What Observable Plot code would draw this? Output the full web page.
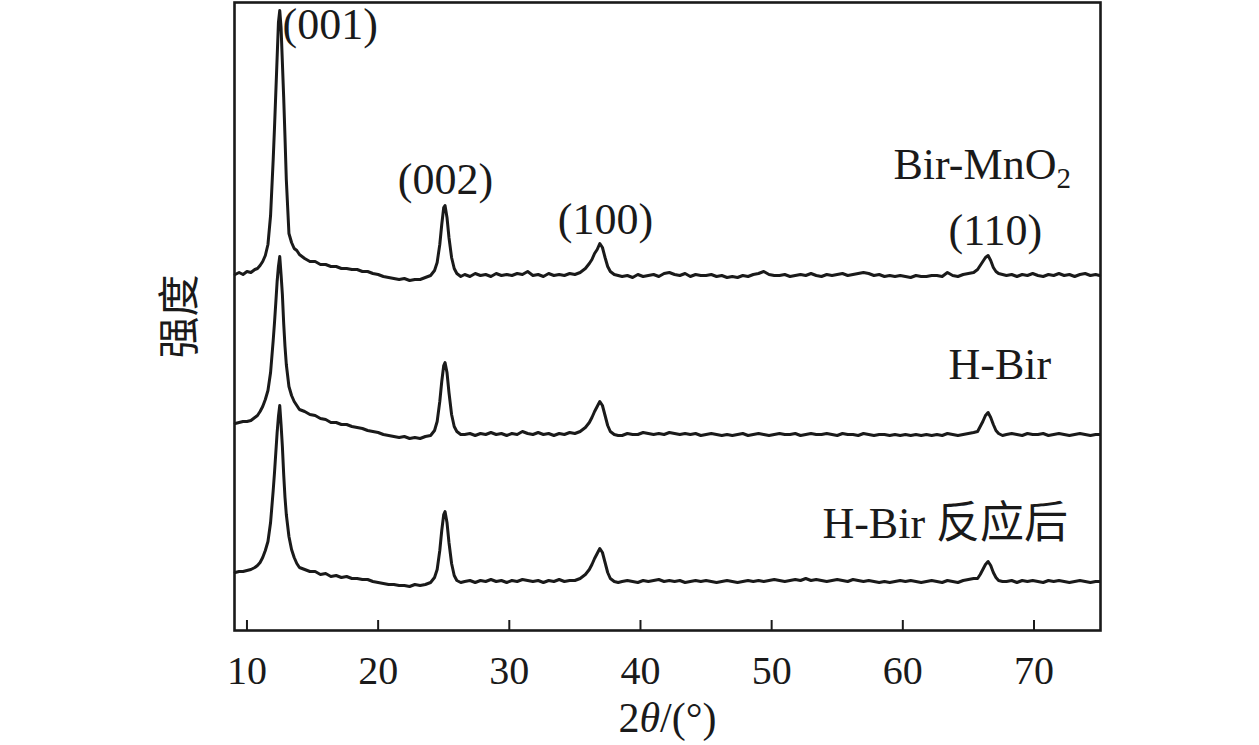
<!DOCTYPE html>
<html>
<head>
<meta charset="utf-8">
<script src="https://cdn.jsdelivr.net/npm/d3@7"></script>
<script src="https://cdn.jsdelivr.net/npm/@observablehq/plot@0.6"></script>
<style>
  html, body { margin: 0; padding: 0; background: #ffffff; }
  #chart { width: 1259px; height: 745px; }
</style>
</head>
<body>
<div id="chart"></div>
<script>
// 2θ sampling grid (degrees)
const twoTheta = [
  9.1, 9.4, 9.7, 10.0, 10.3, 10.6, 10.8, 11.0, 11.2, 11.4, 11.6, 11.8, 12.0, 12.1, 12.2, 12.3, 12.4, 12.5, 12.6, 12.7, 12.8, 12.9, 13.0, 13.2, 13.4, 13.6, 13.8, 14.0,
  14.4, 14.8, 15.2, 15.6, 16.0, 16.4, 16.8, 17.2, 17.6, 18.0, 18.4, 18.8, 19.2, 19.6, 20.0, 20.4, 20.8, 21.2, 21.6, 22.0, 22.4, 22.8, 23.2, 23.6,
  24.0, 24.3, 24.5, 24.7, 24.85, 25.0, 25.1, 25.25, 25.4, 25.6, 25.8, 26.0, 26.3,
  26.6, 27.0, 27.4, 27.8, 28.2, 28.6, 29.0, 29.4, 29.8, 30.2, 30.6, 31.0, 31.4, 31.8, 32.2, 32.6, 33.0, 33.4, 33.8, 34.2, 34.6, 35.0,
  35.4, 35.8, 36.1, 36.3, 36.5, 36.7, 36.9, 37.1, 37.3, 37.5, 37.7, 38.0, 38.3,
  38.6, 39.0, 39.4, 39.8, 40.2, 40.6, 41.0, 41.4, 41.8, 42.2,
  42.6, 43.0, 43.4, 43.8, 44.2, 44.6, 45.0, 45.4, 45.8, 46.2,
  46.6, 47.0, 47.4, 47.8, 48.2, 48.6, 49.0, 49.4, 49.8, 50.2,
  50.6, 51.0, 51.4, 51.8, 52.2, 52.6, 53.0, 53.4, 53.8, 54.2,
  54.6, 55.0, 55.4, 55.8, 56.2, 56.6, 57.0, 57.4, 57.8, 58.2,
  58.6, 59.0, 59.4, 59.8, 60.2, 60.6, 61.0, 61.4, 61.8, 62.2,
  62.6, 63.0, 63.4, 63.8, 64.2, 64.6, 65.0, 65.4,
  65.7, 65.9, 66.1, 66.3, 66.5, 66.7, 66.9, 67.1, 67.3, 67.6,
  67.9, 68.3, 68.7, 69.1, 69.5, 69.9, 70.3, 70.7, 71.1, 71.5, 71.9, 72.3, 72.7, 73.1, 73.5, 73.9, 74.3, 74.7, 75.0
];

// Intensities (a.u., relative to each pattern's own baseline)
const birMnO2 = [
  3, 5, 3, 6, 5, 8, 9, 12, 16, 22, 33, 62, 118, 150, 185, 220, 255, 267, 250, 215, 180, 140, 98, 44, 35, 29, 27, 23,
  19, 16, 16, 13, 13, 11, 11, 9, 9, 8, 8, 6, 6, 4, 3, 1, 0, -1, -2, -1, -3, -2, -2, 0,
  2, 7, 15, 33, 53, 70, 72, 60, 40, 20, 9, 4, 1,
  3, 1, 4, 2, 3, 1, 4, 2, 3, 2, 4, 3, 6, 2, 3, 1, 4, 2, 3, 2, 4, 3,
  5, 9, 14, 18, 24, 28, 34, 30, 20, 11, 6, 3, 2,
  1, 2, 0, 3, 1, 2, 3, 1, 4, 5,
  3, 2, 4, 1, 3, 2, 2, 3, 1, 2,
  0, 1, 0, 2, 1, 3, 4, 6, 3, 2,
  2, 3, 1, 2, 3, 2, 4, 2, 1, 3,
  2, 3, 4, 2, 3, 4, 5, 4, 2, 3,
  1, 2, 1, 2, 1, 0, 2, 1, 1, 2,
  2, 1, 5, 2, 1, 3, 4, 5,
  8, 12, 16, 20, 22, 17, 10, 6, 4, 3,
  2, 3, 1, 3, 2, 4, 2, 1, 3, 2, 4, 2, 3, 1, 3, 4, 2, 3, 2
];

const hBir = [
  13, 14, 15, 15, 16, 19, 21, 25, 30, 37, 46, 64, 96, 114, 134, 155, 170, 180, 162, 142, 113, 90, 72, 50, 41, 35, 31, 27,
  25, 22, 21, 18, 17, 14, 14, 12, 12, 10, 9, 8, 6, 5, 4, 2, 1, 0, -1, 0, -2, -1, -2, 0,
  1, 6, 15, 35, 55, 71, 74, 64, 44, 22, 10, 5, 2,
  2, 3, 1, 3, 2, 4, 2, 3, 1, 3, 2, 5, 3, 2, 4, 2, 3, 1, 3, 2, 4, 3,
  5, 9, 14, 19, 25, 30, 35, 31, 21, 11, 5, 2, 1,
  1, 3, 2, 2, 4, 3, 2, 3, 2, 4,
  3, 2, 3, 2, 3, 1, 2, 3, 2, 1,
  2, 1, 2, 3, 1, 2, 3, 2, 1, 2,
  3, 2, 2, 3, 1, 2, 3, 2, 2, 3,
  2, 1, 3, 2, 2, 1, 3, 2, 1, 2,
  2, 1, 2, 1, 2, 1, 2, 1, 2, 1,
  2, 1, 3, 2, 1, 2, 3, 4,
  5, 10, 15, 21, 24, 19, 12, 6, 3, 1,
  2, 3, 2, 1, 3, 2, 2, 3, 1, 2, 3, 2, 1, 2, 3, 2, 1, 2, 2
];

const hBirAfter = [
  10, 11, 11, 12, 13, 15, 17, 20, 25, 32, 41, 60, 92, 110, 130, 150, 166, 177, 158, 136, 108, 85, 68, 46, 33, 25, 19, 15,
  13, 11, 11, 8, 9, 6, 7, 5, 6, 4, 4, 3, 3, 1, 0, -1, -2, -2, -3, -3, -4, -2, -3, -2,
  0, 5, 13, 32, 52, 68, 71, 60, 40, 19, 7, 2, 0,
  1, 2, 0, 2, 1, 3, 1, 2, 0, 2, 1, 3, 2, 1, 2, 0, 2, 1, 3, 1, 2, 2,
  4, 8, 13, 18, 24, 29, 34, 30, 20, 10, 4, 1, 0,
  1, 2, 1, 0, 2, 1, 2, 3, 1, 2,
  1, 2, 0, 1, 2, 1, 2, 1, 0, 1,
  2, 1, 0, 1, 2, 1, 2, 1, 2, 3,
  2, 1, 2, 3, 2, 4, 2, 3, 2, 1,
  2, 3, 2, 1, 3, 2, 1, 2, 1, 0,
  1, 0, 1, 2, 1, 2, 1, 0, 1, 2,
  1, 0, 2, 1, 0, 2, 3, 4,
  4, 8, 13, 18, 21, 17, 10, 5, 2, 1,
  1, 2, 0, 2, 1, 2, 1, 0, 2, 1, 2, 1, 0, 1, 2, 1, 0, 1, 1
];

const seriesNames = ["Bir-MnO2", "H-Bir", "H-Bir 反应后"];
const seriesOffsets = [353, 194, 48];           // vertical stacking offsets (a.u.)
const xTicks = [10, 20, 30, 40, 50, 60, 70];

// Annotations anchored in data coordinates (2θ, stacked intensity)
const peakLabels = ["(001)", "(002)", "(100)", "(110)"];
const peakLabelTheta = [12.71, 25.13, 37.33, 67.06];
const peakLabelLevel = [606, 451, 411, 400];
const sampleLabelTheta = [59.29, 63.48, 53.87];
const sampleLabelLevel = [466, 266, 107];

// ---- build tables ----
const seriesValues = [birMnO2, hBir, hBirAfter];
const rows = [];
seriesValues.forEach((vals, s) => {
  const n = Math.min(vals.length, twoTheta.length);
  for (let i = 0; i < n; i++) rows.push({x: twoTheta[i], y: vals[i] + seriesOffsets[s], s: seriesNames[s]});
});
const peakRows = peakLabels.map((t, i) => ({text: t, x: peakLabelTheta[i], y: peakLabelLevel[i], anchor: i === 0 ? "start" : "middle"}));
const sampleRows = seriesNames.map((t, i) => ({text: t, x: sampleLabelTheta[i], y: sampleLabelLevel[i]}));

const ink = "#1a1a1a";
const serif = "'Liberation Serif', 'Times New Roman', 'Noto Sans CJK SC', serif";

const chart = Plot.plot({
  width: 1259,
  height: 745,
  marginLeft: 234,
  marginRight: 159,
  marginTop: 2,
  marginBottom: 115,
  style: {fontFamily: serif, background: "#ffffff", color: ink, overflow: "visible"},
  x: {domain: [9.05, 75.07], axis: null},
  y: {domain: [0, 628], axis: null},
  marks: [
    Plot.line(rows, {x: "x", y: "y", z: "s", stroke: ink, strokeWidth: 3, strokeLinejoin: "round", strokeLinecap: "round"}),
    Plot.ruleX(xTicks, {x: d => d, y1: 0, y2: 10, stroke: ink, strokeWidth: 2}),
    Plot.axisX(xTicks, {anchor: "bottom", tickSize: 0, tickPadding: 25, fontSize: 40, fill: ink, label: null, tickFormat: d => String(d)}),
    Plot.frame({stroke: ink, strokeWidth: 2.6}),
    Plot.text(peakRows.filter(d => d.anchor === "start"), {x: "x", y: "y", text: "text", textAnchor: "start", lineAnchor: "middle", fontSize: 44, fill: ink}),
    Plot.text(peakRows.filter(d => d.anchor !== "start"), {x: "x", y: "y", text: "text", textAnchor: "middle", lineAnchor: "middle", fontSize: 44, fill: ink}),
    Plot.text(sampleRows, {x: "x", y: "y", text: "text", textAnchor: "start", lineAnchor: "middle", fontSize: 44, fill: ink}),
    Plot.text(["2θ/(°)"], {frameAnchor: "bottom", dy: 88, lineAnchor: "middle", textAnchor: "middle", fontSize: 42, fill: ink}),
    Plot.text(["强度"], {frameAnchor: "left", dx: -54, rotate: -90, lineAnchor: "middle", textAnchor: "middle", fontSize: 42, fill: ink,
      fontFamily: "'Noto Sans CJK SC', sans-serif"})
  ]
});

document.getElementById("chart").appendChild(chart);

// Subscript and italic glyph details, kept as real text
d3.select(chart).selectAll("text").each(function () {
  const el = d3.select(this);
  const tx = this.textContent;
  if (tx === "Bir-MnO2") {
    el.text("Bir-MnO");
    el.append("tspan").attr("font-size", "29px").attr("dy", "0.32em").text("2");
  } else if (tx === "2θ/(°)") {
    el.text("2");
    el.append("tspan").attr("font-style", "italic").text("θ");
    el.append("tspan").text("/(°)");
  }
});
</script>
</body>
</html>
